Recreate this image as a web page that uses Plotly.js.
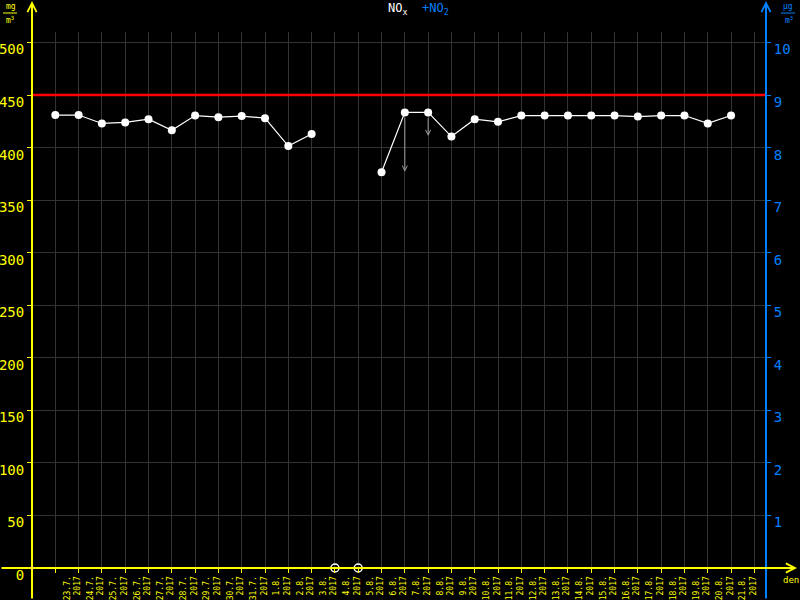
<!DOCTYPE html>
<html>
<head>
<meta charset="utf-8">
<script src="https://cdn.plot.ly/plotly-3.0.1.min.js"></script>
<style>html,body{margin:0;padding:0;background:#000;}#chart{width:800px;height:600px;}</style>
</head>
<body>
<div id="chart"></div>
<script>
// ---- data ----
const dates = ['23.7.','24.7.','25.7.','26.7.','27.7.','28.7.','29.7.','30.7.','31.7.',
  '1.8.','2.8.','3.8.','4.8.','5.8.','6.8.','7.8.','8.8.','9.8.','10.8.','11.8.',
  '12.8.','13.8.','14.8.','15.8.','16.8.','17.8.','18.8.','19.8.','20.8.','21.8.'];
const year = '2017';
// NOx daily values (mg/m3), null = missing
const nox = [431, 431, 423, 424, 427, 416.5, 430.5, 429, 430, 428, 401.5, 413,
  null, null, 376.5, 433.5, 433.5, 410.5, 427, 424.5,
  430.5, 430.5, 430.5, 430.5, 430.5, 429.5, 430.5, 430.5, 423, 430.5];
// days with missing NOx, marked on the baseline
const noxMissingDays = ['4.8.', '5.8.'];
// lower values marked by gray arrows
const arrowDays = ['7.8.', '8.8.'];
const arrowLow = [377, 411];
// NO2 (µg/m3, right axis)
const no2 = dates.map(() => 0);
const noxLimit = 450;
const leftTicks = [0,50,100,150,200,250,300,350,400,450,500];
const rightTicks = [1,2,3,4,5,6,7,8,9,10];

// ---- styling ----
const YEL = '#ffff00', BLUE = 'rgb(0,128,255)', GRID = '#333333';
const MONO = 'DejaVu Sans Mono, monospace';
const idx = dates.map((d, i) => i);
const dayIndex = d => dates.indexOf(d);

const traces = [
  { x: idx, y: no2, yaxis: 'y2', mode: 'lines', line: {color: BLUE, width: 2},
    cliponaxis: false, hoverinfo: 'skip', showlegend: false },
  { x: idx, y: nox, mode: 'lines+markers', line: {color: '#ffffff', width: 1.2},
    marker: {color: '#ffffff', size: 8}, cliponaxis: false, connectgaps: false, showlegend: false },
  { x: noxMissingDays.map(dayIndex), y: noxMissingDays.map(() => 0), mode: 'markers',
    marker: {symbol: 'circle-open', color: '#ffffff', size: 8, line: {width: 1.5}},
    cliponaxis: false, showlegend: false }
];

const tickvals = idx.concat([dates.length]);
const ticktext = dates.map(d => d + '<br>' + year).concat(['']);

const W = 734, H = 536; // plot area size
const py = p => (568 - p) / H; // pixel row -> paper y
const px = p => (p - 32) / W;  // pixel column -> paper x
const annotations = [
  // axis arrows
  { xref: 'paper', yref: 'paper', x: 0, y: py(1), ax: 0, ay: 599, axref: 'pixel', ayref: 'pixel',
    text: '', showarrow: true, arrowhead: 5, arrowsize: 0.9, arrowwidth: 2, arrowcolor: YEL, standoff: 0 },
  { xref: 'paper', yref: 'paper', x: 1, y: py(1), ax: 0, ay: 599, axref: 'pixel', ayref: 'pixel',
    text: '', showarrow: true, arrowhead: 5, arrowsize: 0.9, arrowwidth: 2, arrowcolor: BLUE, standoff: 0 },
  { xref: 'paper', yref: 'y', x: px(797), y: 0, ax: -797, ay: 0, axref: 'pixel', ayref: 'pixel',
    text: '', showarrow: true, arrowhead: 5, arrowsize: 0.9, arrowwidth: 2, arrowcolor: YEL, standoff: 0 },
  // title
  { xref: 'paper', yref: 'paper', x: px(418), y: py(9), xanchor: 'center', yanchor: 'middle',
    showarrow: false, font: {family: MONO, size: 12, color: '#ffffff'},
    text: 'NO<sub>x</sub>  <span style="color:' + BLUE + '">+NO<sub>2</sub></span>' },
  // units
  { xref: 'paper', yref: 'paper', x: px(11), y: py(6), showarrow: false, xanchor: 'center', yanchor: 'middle',
    font: {family: MONO, size: 8, color: YEL}, text: 'mg' },
  { xref: 'paper', yref: 'paper', x: px(10), y: py(20), showarrow: false, xanchor: 'center', yanchor: 'middle',
    font: {family: MONO, size: 8, color: YEL}, text: 'm<sup>3</sup>' },
  { xref: 'paper', yref: 'paper', x: px(788), y: py(6), showarrow: false, xanchor: 'center', yanchor: 'middle',
    font: {family: MONO, size: 8, color: BLUE}, text: 'µg' },
  { xref: 'paper', yref: 'paper', x: px(789), y: py(20), showarrow: false, xanchor: 'center', yanchor: 'middle',
    font: {family: MONO, size: 8, color: BLUE}, text: 'm<sup>3</sup>' },
  { xref: 'paper', yref: 'paper', x: px(791), y: py(580), showarrow: false, xanchor: 'center', yanchor: 'middle',
    font: {family: MONO, size: 9, color: YEL}, text: 'den' }
];
arrowDays.forEach((d, k) => {
  const i = dayIndex(d);
  annotations.push({ xref: 'x', yref: 'y', x: i, y: arrowLow[k], axref: 'x', ayref: 'y', ax: i, ay: nox[i],
    text: '', showarrow: true, arrowhead: 5, arrowsize: 1, arrowwidth: 1, arrowcolor: '#9a9a9a', standoff: 0, startstandoff: 4 });
});

const shapes = [
  { type: 'line', xref: 'paper', yref: 'y', x0: 0, x1: 1, y0: noxLimit, y1: noxLimit,
    line: {color: '#ff0000', width: 2.5} },
  { type: 'line', xref: 'paper', yref: 'paper', x0: px(3), x1: px(17), y0: py(13), y1: py(13),
    line: {color: YEL, width: 1} },
  { type: 'line', xref: 'paper', yref: 'paper', x0: px(781), x1: px(795), y0: py(13), y1: py(13),
    line: {color: BLUE, width: 1} }
];

const layout = {
  width: 800, height: 600,
  paper_bgcolor: '#000000', plot_bgcolor: '#000000',
  margin: {l: 32, r: 34, t: 32, b: 32, pad: 0},
  showlegend: false,
  xaxis: {
    range: [-1, 30.5], tickmode: 'array', tickvals: tickvals, ticktext: ticktext,
    tickangle: -90, ticks: 'outside', ticklen: 4, tickwidth: 1, tickcolor: YEL,
    tickfont: {family: MONO, size: 8, color: YEL}, ticklabelshift: 17,
    showgrid: true, gridcolor: GRID, gridwidth: 1, zeroline: false, showline: false, fixedrange: true
  },
  yaxis: {
    range: [0, 510], tickmode: 'array', tickvals: leftTicks,
    ticks: 'outside', ticklen: 4, tickwidth: 1, tickcolor: YEL,
    tickfont: {family: MONO, size: 14, color: YEL}, ticklabelshift: 7,
    showgrid: true, gridcolor: GRID, gridwidth: 1, zeroline: false, showline: false, fixedrange: true
  },
  yaxis2: {
    overlaying: 'y', side: 'right', range: [0, 10.2], tickmode: 'array', tickvals: rightTicks,
    ticks: 'outside', ticklen: 4, tickwidth: 1, tickcolor: BLUE,
    tickfont: {family: MONO, size: 14, color: BLUE}, ticklabelshift: 7,
    showgrid: false, zeroline: false, showline: false, fixedrange: true
  },
  shapes: shapes,
  annotations: annotations
};

Plotly.newPlot('chart', traces, layout, {displayModeBar: false, staticPlot: true});
</script>
</body>
</html>
